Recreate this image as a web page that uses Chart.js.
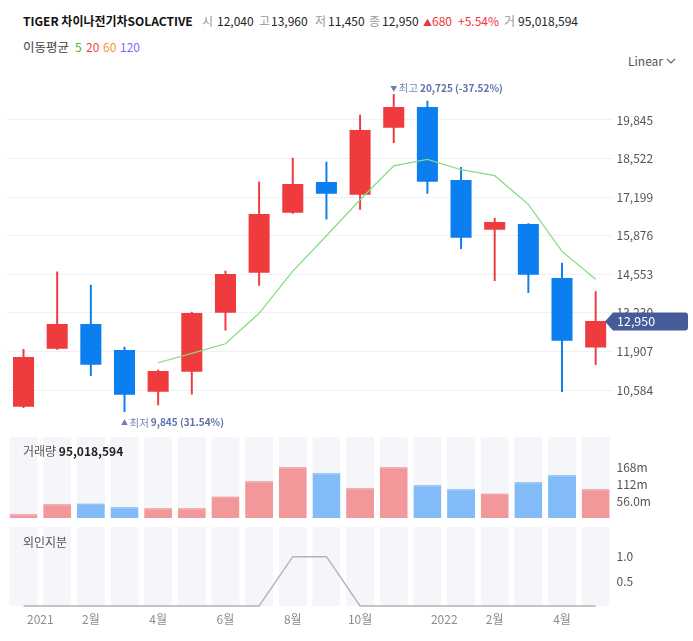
<!DOCTYPE html>
<html><head><meta charset="utf-8">
<script src="https://cdn.jsdelivr.net/npm/chart.js@4.4.0/dist/chart.umd.min.js"></script>
<style>
body{margin:0;background:#fff;width:693px;height:641px;overflow:hidden;position:relative;font-family:"Noto Sans CJK KR","Noto Sans",sans-serif;}
.t{position:absolute;white-space:nowrap;line-height:1;transform:translateY(-50%);font-size:12px;color:#222;z-index:5;}
.g{color:#999;}
.r{color:#f0353a;}
canvas{position:absolute;left:0;}
</style></head><body>

<div class="t" style="left:23px;top:21px;font-weight:bold;color:#111;">TIGER 차이나전기차SOLACTIVE</div>
<div class="t g" style="left:202px;top:21px;">시</div>
<div class="t" style="left:217px;top:21px;">12,040</div>
<div class="t g" style="left:259px;top:21px;">고</div>
<div class="t" style="left:271px;top:21px;">13,960</div>
<div class="t g" style="left:315px;top:21px;">저</div>
<div class="t" style="left:328px;top:21px;">11,450</div>
<div class="t g" style="left:369px;top:21px;">종</div>
<div class="t" style="left:382px;top:21px;">12,950</div>
<div class="t r" style="left:423px;top:21px;"><span style="font-size:9px">▲</span>680</div>
<div class="t r" style="left:458px;top:21px;">+5.54%</div>
<div class="t g" style="left:504px;top:21px;">거</div>
<div class="t" style="left:518px;top:21px;">95,018,594</div>

<div class="t" style="left:23px;top:47px;color:#444;font-size:12.5px;">이동평균</div>
<div class="t" style="left:75px;top:47px;color:#3cba3c;">5</div>
<div class="t" style="left:86px;top:47px;color:#f2474c;">20</div>
<div class="t" style="left:103px;top:47px;color:#f39237;">60</div>
<div class="t" style="left:120px;top:47px;color:#8c63f2;">120</div>

<div class="t" style="left:628px;top:61px;color:#555;font-size:12px;">Linear</div>
<svg style="position:absolute;left:666px;top:58px;z-index:5" width="10" height="7"><polyline points="1,1 5,5 9,1" fill="none" stroke="#666" stroke-width="1.1"/></svg>

<div class="t" style="left:23px;top:451px;color:#555;">거래량 <span style="color:#222;font-weight:bold">95,018,594</span></div>
<div class="t" style="left:23px;top:542px;color:#555;">외인지분</div>

<canvas id="main" width="693" height="360" style="top:70px"></canvas>
<canvas id="vol" width="693" height="81" style="top:437px"></canvas>
<canvas id="frn" width="693" height="114" style="top:527px"></canvas>

<script>
// ---- data ----
const labels = ['2020-12','2021-01','2021-02','2021-03','2021-04','2021-05','2021-06','2021-07','2021-08','2021-09','2021-10','2021-11','2021-12','2022-01','2022-02','2022-03','2022-04','2022-05'];
const openP  = [10010, 12000, 12850, 11960, 10525, 11210, 13235, 14605, 16665, 17720, 17285, 19580, 20290, 17785, 16080, 16280, 14425, 12040];
const highP  = [11980, 14640, 14185, 12060, 11270, 13260, 14665, 17720, 18540, 18405, 20015, 20725, 20495, 18225, 16485, 16290, 14940, 13960];
const lowP   = [9975, 11980, 11075, 9845, 10070, 10445, 12640, 14175, 16640, 16440, 16780, 19065, 17330, 15430, 14335, 13920, 10525, 11450];
const closeP = [11715, 12850, 11450, 10425, 11235, 13225, 14565, 16620, 17650, 17315, 19500, 20290, 17730, 15810, 16345, 14540, 12270, 12950];
const ma5    = [null, null, null, null, 11520, 11840, 12170, 13215, 14660, 15875, 17110, 18270, 18495, 18140, 17935, 16950, 15340, 14385];
const volumeM = [12, 45, 48, 35, 32, 32, 71, 121, 167, 147, 98, 167, 108, 95, 81, 118, 141, 95.02];
const foreignPct = [0, 0, 0, 0, 0, 0, 0, 0, 1, 1, 0, 0, 0, 0, 0, 0, 0, 0];
const priceTicks = [10584, 11907, 13230, 14553, 15876, 17199, 18522, 19845];
const volTicks = [56, 112, 168];
const volTickLabels = ['56.0m', '112m', '168m'];
const foreignTicks = [0.5, 1.0];
const foreignTickLabels = ['0.5', '1.0'];
const xTickPos = [0.5, 2, 4, 6, 8, 10, 12.5, 14, 16];
const xTickLabels = ['2021', '2월', '4월', '6월', '8월', '10월', '2022', '2월', '4월'];

// ---- styles ----
const FONT = '"Noto Sans CJK KR", "Noto Sans", sans-serif';
Chart.defaults.font.family = FONT;
const RED = '#ef3a3e', BLUE = '#0b7ef0';
const VRED = '#f2979a', VBLUE = '#82bbf7';
const up = closeP.map((c, i) => c >= openP[i]);
const fmt = v => Math.round(v).toLocaleString('en-US');

const xCat = {type: 'category', offset: true, display: false, grid: {display: false}};
const layout = {padding: {left: 6.7, right: 0, top: 0, bottom: 0}};
function yRight(tickVals, labelFn, min, max, gridOn) {
  return {
    position: 'right', min, max,
    grid: gridOn ? {color: '#eff1f4', drawTicks: false, lineWidth: 1} : {display: false, drawTicks: false},
    border: {display: false},
    ticks: {padding: 4, color: '#555', font: {size: 12}, callback: labelFn, autoSkip: false},
    afterBuildTicks(s) { s.ticks = tickVals.map(v => ({value: v})); },
    afterFit(s) { s.width = 80.5; s.paddingTop = 0; s.paddingBottom = 0; }
  };
}
const baseOpts = {responsive: false, animation: false, events: [], devicePixelRatio: 1,
  plugins: {legend: {display: false}, tooltip: {enabled: false}}, layout};

// ---- annotations ----
const annot = {
  id: 'annot',
  afterDatasetsDraw(chart) {
    const {ctx, scales: {x, y}} = chart;
    const last = closeP[closeP.length - 1];
    ctx.save();
    const minV = Math.min(...lowP), iMin = lowP.indexOf(minV);
    const maxV = Math.max(...highP), iMax = highP.indexOf(maxV);
    const drawNote = (px, py, tri, word, val) => {
      ctx.textBaseline = 'middle';
      ctx.fillStyle = '#6b7db3';
      ctx.font = '7px ' + FONT; ctx.textAlign = 'center';
      ctx.fillText(tri, px, py);
      ctx.textAlign = 'left';
      ctx.font = '10.5px ' + FONT; ctx.fillStyle = '#7487bd';
      ctx.fillText(word, px + 5, py);
      const w = ctx.measureText(word).width;
      ctx.font = 'bold 10px ' + FONT; ctx.fillStyle = '#5e71aa';
      ctx.fillText(val, px + 5 + w + 2, py);
    };
    const pMin = ((last - minV) / minV * 100).toFixed(2);
    const pMax = ((last - maxV) / maxV * 100).toFixed(2);
    drawNote(x.getPixelForValue(iMin), y.getPixelForValue(minV) + 11, '▲', '최저', fmt(minV) + ' (' + pMin + '%)');
    drawNote(x.getPixelForValue(iMax), y.getPixelForValue(maxV) - 6, '▼', '최고', fmt(maxV) + ' (' + pMax + '%)');
    ctx.restore();
  },
  afterDraw(chart) {
    const {ctx, scales: {y}, chartArea} = chart;
    const last = closeP[closeP.length - 1];
    const yy = Math.round(y.getPixelForValue(last)) + 0.5;
    const xr = chartArea.right;
    ctx.save();
    ctx.fillStyle = '#465c98';
    ctx.beginPath();
    ctx.moveTo(xr - 7.5, yy);
    ctx.lineTo(xr + 0.5, yy - 9);
    ctx.lineTo(xr + 72.5, yy - 9);
    ctx.arcTo(xr + 75.5, yy - 9, xr + 75.5, yy - 6, 3);
    ctx.lineTo(xr + 75.5, yy + 6);
    ctx.arcTo(xr + 75.5, yy + 9, xr + 72.5, yy + 9, 3);
    ctx.lineTo(xr + 0.5, yy + 9);
    ctx.closePath();
    ctx.fill();
    ctx.fillStyle = '#fff';
    ctx.font = '12.5px ' + FONT;
    ctx.textBaseline = 'middle'; ctx.textAlign = 'left';
    ctx.fillText(fmt(last), xr + 4.5, yy);
    ctx.restore();
  }
};

// ---- main price chart ----
new Chart(document.getElementById('main'), {
  type: 'bar',
  data: {
    labels,
    datasets: [
      {type: 'line', data: ma5, borderColor: '#80dd7d', borderWidth: 1.2, pointRadius: 0, order: 1, spanGaps: false},
      {data: openP.map((o, i) => [o, closeP[i]]), backgroundColor: up.map(u => u ? RED : BLUE),
       barPercentage: 0.625, categoryPercentage: 1, grouped: false, order: 2, borderWidth: 0},
      {data: lowP.map((l, i) => [l, highP[i]]), backgroundColor: up.map(u => u ? RED : BLUE),
       barThickness: 1.3, grouped: false, order: 3, borderWidth: 0}
    ]
  },
  options: Object.assign({}, baseOpts, {
    scales: {x: xCat, y: yRight(priceTicks, v => fmt(v), 9212, 21560, true)}
  }),
  plugins: [annot]
});

// ---- volume chart ----
const volMax = 266.8;
new Chart(document.getElementById('vol'), {
  type: 'bar',
  data: {
    labels,
    datasets: [
      {data: volumeM, backgroundColor: up.map(u => u ? VRED : VBLUE),
       borderColor: up.map(u => u ? '#ee7a7e' : '#5ea4f3'), borderWidth: {top: 1, left: 0, right: 0, bottom: 0}, borderSkipped: false,
       barPercentage: 0.83, categoryPercentage: 1, grouped: false, order: 1},
      {data: labels.map(() => volMax), backgroundColor: '#f5f6fa', borderWidth: 0,
       barPercentage: 0.83, categoryPercentage: 1, grouped: false, order: 2}
    ]
  },
  options: Object.assign({}, baseOpts, {
    scales: {x: xCat, y: yRight(volTicks, (v, i) => volTickLabels[i], 0, volMax, false)}
  })
});

// ---- foreign ownership chart ----
new Chart(document.getElementById('frn'), {
  type: 'bar',
  data: {
    labels,
    datasets: [
      {type: 'line', data: foreignPct, borderColor: '#b4b4b4', borderWidth: 1.4, pointRadius: 0, order: 1},
      {data: labels.map(() => 1.602), backgroundColor: '#f5f6fa', borderWidth: 0,
       barPercentage: 0.83, categoryPercentage: 1, grouped: false, order: 2}
    ]
  },
  options: Object.assign({}, baseOpts, {
    scales: {
      x: xCat,
      x2: {type: 'linear', position: 'bottom', offset: false, min: -0.5, max: 17.5, grid: {display: false, drawTicks: false, offset: false}, border: {display: false},
        ticks: {padding: 5, color: '#8c8c8c', font: {size: 12}, autoSkip: false, maxRotation: 0, callback: (v, i) => xTickLabels[i]},
        afterBuildTicks(s) { s.ticks = xTickPos.map(v => ({value: v})); },
        afterFit(s) { s.height = 34; s.paddingLeft = 0; s.paddingRight = 0; }},
      y: yRight(foreignTicks, (v, i) => foreignTickLabels[i], -0.02, 1.602, false)
    }
  })
});
</script>
</body></html>
